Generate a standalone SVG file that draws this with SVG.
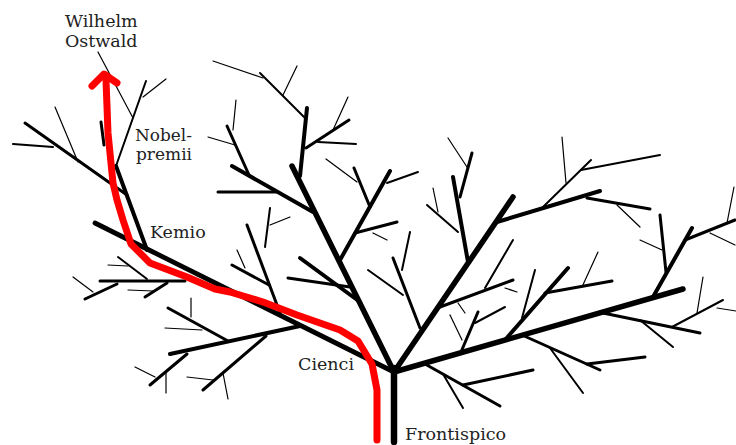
<svg xmlns="http://www.w3.org/2000/svg" width="736" height="445" viewBox="0 0 736 445">
<style>
line,polyline{stroke:#000;fill:none;stroke-linecap:round;stroke-linejoin:round}
.t0{stroke-width:6.5}.t1{stroke-width:5.5}.t2{stroke-width:4}.t3{stroke-width:3}.t4{stroke-width:2}.t5{stroke-width:1.2}
.red{stroke:#f00;stroke-width:7;fill:none;stroke-linecap:round;stroke-linejoin:round}
text{font-family:"DejaVu Serif","Liberation Serif",serif;font-size:17.5px;fill:#222}
.sm{font-size:16px}
</style>
<rect width="736" height="445" fill="#fff"/>
<g id="tree">
<line class="t0" x1="394" y1="368" x2="394" y2="442"/>
<line class="t1" x1="394" y1="372" x2="292" y2="166"/>
<line class="t1" x1="394" y1="372" x2="513" y2="197"/>
<line class="t1" x1="394" y1="372" x2="683" y2="289"/>
<polyline class="t1" style="stroke-width:4.8" points="95,223 147,249 394,372"/>
<line class="t2" x1="340" y1="260" x2="390" y2="171"/>
<line class="t2" x1="232" y1="166" x2="313" y2="212"/>
<line class="t2" x1="300" y1="258" x2="360" y2="302"/>
<line class="t2" x1="170" y1="354" x2="300" y2="326"/>
<line class="t2" x1="497" y1="222" x2="600" y2="191"/>
<line class="t2" x1="453" y1="177" x2="468" y2="262"/>
<line class="t2" x1="147" y1="250" x2="116" y2="166"/>
<line class="t2" x1="653" y1="297" x2="692" y2="228"/>
<line class="t2" x1="307" y1="108" x2="300" y2="176"/>
<line class="t2" x1="505" y1="340" x2="568" y2="268"/>
<line class="t3" x1="603" y1="313" x2="700" y2="333"/>
<line class="t3" x1="522" y1="335" x2="600" y2="370"/>
<line class="t3" x1="425" y1="364" x2="500" y2="406"/>
<line class="t3" x1="393" y1="258" x2="420" y2="328"/>
<line class="t3" x1="247" y1="225" x2="280" y2="313"/>
<line class="t3" x1="100" y1="281" x2="185" y2="281"/>
<line class="t3" x1="440" y1="307" x2="513" y2="280"/>
<line class="t3" x1="545" y1="293" x2="612" y2="281"/>
<line class="t4" x1="522" y1="318" x2="535" y2="270"/>
<line class="t3" x1="461" y1="352" x2="478" y2="312"/>
<line class="t5" x1="450" y1="315" x2="462" y2="340"/>
<line class="t4" x1="475" y1="323" x2="505" y2="307"/>
<line class="t3" x1="463" y1="385" x2="533" y2="370"/>
<line class="t4" x1="443" y1="374" x2="463" y2="408"/>
<line class="t3" x1="587" y1="364" x2="645" y2="357"/>
<line class="t4" x1="550" y1="348" x2="583" y2="393"/>
<line class="t4" x1="640" y1="320" x2="673" y2="347"/>
<line class="t3" x1="660" y1="215" x2="666" y2="272"/>
<line class="t5" x1="640" y1="240" x2="662" y2="250"/>
<line class="t3" x1="685" y1="240" x2="735" y2="220"/>
<line class="t5" x1="734" y1="187" x2="727" y2="223"/>
<line class="t5" x1="710" y1="233" x2="735" y2="245"/>
<line class="t4" x1="672" y1="327" x2="723" y2="300"/>
<line class="t5" x1="703" y1="277" x2="697" y2="313"/>
<line class="t5" x1="717" y1="308" x2="736" y2="311"/>
<line class="t3" x1="587" y1="198" x2="650" y2="209"/>
<line class="t5" x1="617" y1="205" x2="640" y2="227"/>
<line class="t4" x1="543" y1="207" x2="591" y2="160"/>
<line class="t4" x1="581" y1="170" x2="660" y2="155"/>
<line class="t5" x1="562" y1="137" x2="566" y2="183"/>
<line class="t5" x1="598" y1="252" x2="582" y2="287"/>
<line class="t4" x1="485" y1="288" x2="513" y2="240"/>
<line class="t5" x1="458" y1="303" x2="465" y2="313"/>
<line class="t5" x1="505" y1="288" x2="517" y2="292"/>
<line class="t3" x1="472" y1="153" x2="460" y2="197"/>
<line class="t5" x1="448" y1="138" x2="467" y2="167"/>
<line class="t5" x1="433" y1="188" x2="438" y2="212"/>
<line class="t4" x1="427" y1="205" x2="458" y2="232"/>
<line class="t4" x1="410" y1="232" x2="402" y2="270"/>
<line class="t4" x1="368" y1="270" x2="403" y2="295"/>
<line class="t4" x1="387" y1="183" x2="418" y2="172"/>
<line class="t3" x1="354" y1="168" x2="370" y2="207"/>
<line class="t5" x1="326" y1="159" x2="357" y2="182"/>
<line class="t3" x1="355" y1="233" x2="397" y2="222"/>
<line class="t5" x1="373" y1="233" x2="387" y2="240"/>
<line class="t3" x1="288" y1="278" x2="350" y2="287"/>
<line class="t3" x1="227" y1="126" x2="249" y2="175"/>
<line class="t5" x1="236" y1="100" x2="233" y2="130"/>
<line class="t5" x1="208" y1="137" x2="235" y2="145"/>
<line class="t3" x1="218" y1="192" x2="276" y2="192"/>
<line class="t4" x1="260" y1="73" x2="305" y2="118"/>
<line class="t5" x1="213" y1="61" x2="263" y2="78"/>
<line class="t5" x1="297" y1="66" x2="283" y2="95"/>
<line class="t3" x1="306" y1="148" x2="349" y2="120"/>
<line class="t5" x1="348" y1="97" x2="333" y2="130"/>
<line class="t4" x1="318" y1="142" x2="356" y2="144"/>
<line class="t4" x1="270" y1="208" x2="265" y2="247"/>
<line class="t5" x1="270" y1="225" x2="290" y2="217"/>
<line class="t3" x1="232" y1="265" x2="269" y2="285"/>
<line class="t5" x1="237" y1="250" x2="245" y2="268"/>
<line class="t3" x1="203" y1="390" x2="266" y2="336"/>
<line class="t5" x1="187" y1="377" x2="213" y2="380"/>
<line class="t5" x1="223" y1="373" x2="228" y2="399"/>
<line class="t3" x1="150" y1="385" x2="187" y2="354"/>
<line class="t5" x1="135" y1="367" x2="155" y2="377"/>
<line class="t5" x1="166" y1="373" x2="166" y2="393"/>
<line class="t3" x1="168" y1="308" x2="228" y2="341"/>
<line class="t5" x1="191" y1="298" x2="191" y2="317"/>
<line class="t5" x1="165" y1="328" x2="202" y2="330"/>
<line class="t3" x1="85" y1="299" x2="117" y2="284"/>
<line class="t5" x1="73" y1="277" x2="93" y2="292"/>
<line class="t4" x1="118" y1="257" x2="147" y2="279"/>
<line class="t5" x1="108" y1="265" x2="128" y2="266"/>
<line class="t3" x1="145" y1="297" x2="167" y2="283"/>
<line class="t5" x1="128" y1="290" x2="153" y2="291"/>
<line class="t3" x1="25" y1="123" x2="127" y2="195"/>
<line class="t5" x1="55" y1="107" x2="78" y2="162"/>
<line class="t4" x1="13" y1="144" x2="53" y2="147"/>
<line class="t4" x1="116" y1="166" x2="146" y2="81"/>
<line class="t5" x1="98" y1="52" x2="133" y2="118"/>
<line class="t5" x1="143" y1="97" x2="166" y2="79"/>
<line class="t3" x1="101" y1="122" x2="104" y2="145"/>
</g>
<g id="path">
<polyline class="red" points="377,440 377,390 372,364 358,341 340,330 297,315 263,302 230,292 215,289 187,277 150,263 131,244 123,220 117,200 113,183 108,133 106,80"/>
<polyline class="red" points="92,86 104,74 117,83"/>
</g>
<g id="labels">
<text x="65" y="27">Wilhelm</text>
<text x="65" y="47">Ostwald</text>
<text class="sm" x="135" y="141" textLength="57" lengthAdjust="spacingAndGlyphs">Nobel-</text>
<text class="sm" x="136" y="160" textLength="56" lengthAdjust="spacingAndGlyphs">premii</text>
<text x="150" y="238">Kemio</text>
<text x="298" y="370">Cienci</text>
<text x="405" y="440">Frontispico</text>
</g>
</svg>
